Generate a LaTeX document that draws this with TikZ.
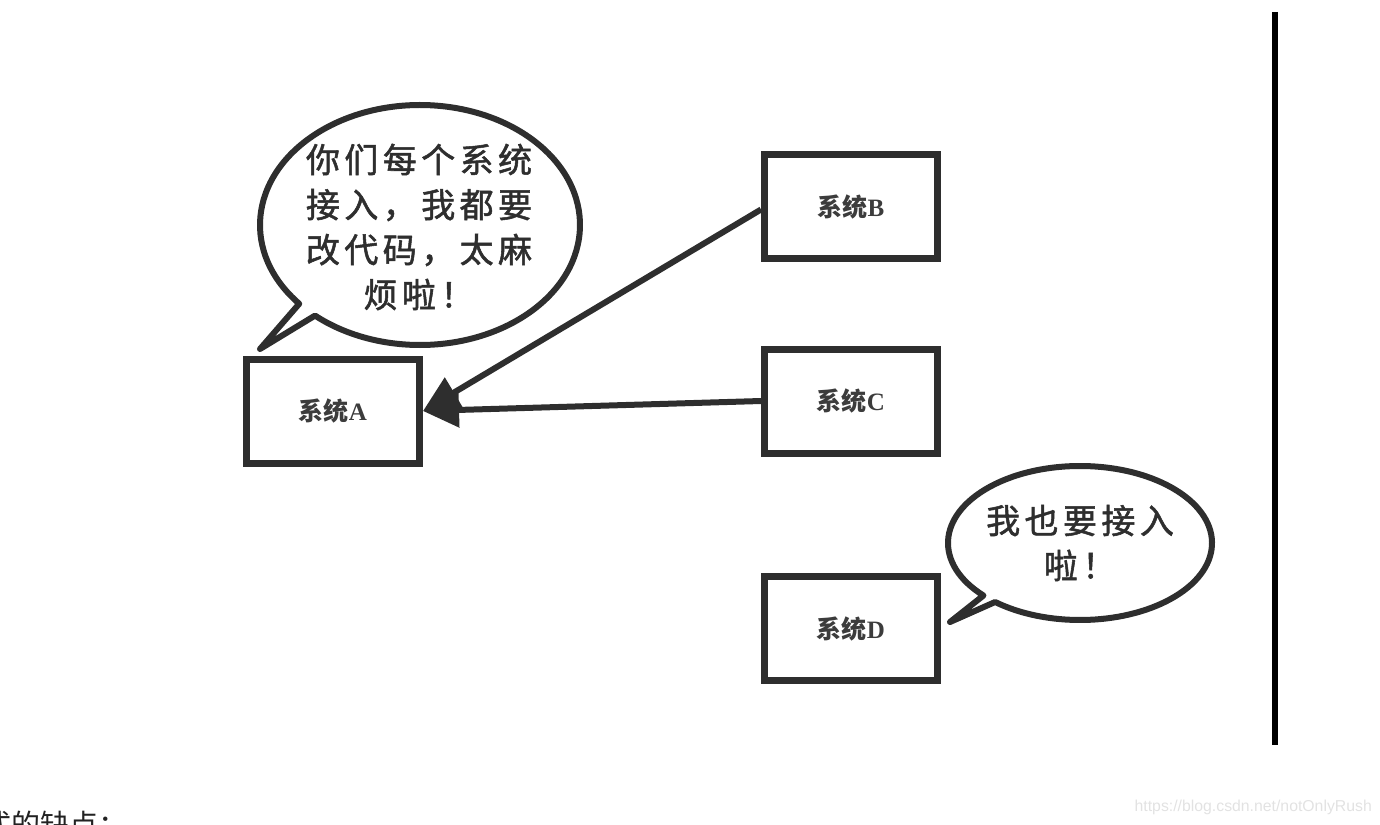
\documentclass[tikz,border=0pt]{standalone}
\usepackage{fontspec}
\setmainfont{Liberation Serif}
\newfontfamily\cjk{Noto Sans CJK SC}
\newfontfamily\cjkspaced[LetterSpace=13,FakeBold=1.5]{Noto Sans CJK SC}
\newfontfamily\wmfont{Liberation Sans}
\usetikzlibrary{arrows.meta,calc}
\definecolor{ink}{HTML}{2E2E2E}
\definecolor{labelgray}{HTML}{3C3C3C}
\definecolor{wmgray}{HTML}{E2E2E2}
\definecolor{captext}{HTML}{222222}
\newcommand\syslabel[1]{{\cjk\bfseries 系统}{\bfseries #1}}
\begin{document}
\begin{tikzpicture}[x=1pt,y=-1pt,
  sysbox/.style={draw=ink, line width=7pt, minimum width=173pt, minimum height=104pt,
    inner sep=0pt, font=\fontsize{25}{25}\selectfont, text=labelgray},
  conn/.style={draw=ink, line width=6pt, -{Triangle[length=36pt,width=34pt]}},
  bubble/.style={draw=ink, line width=6pt, fill=white, line join=round},
  saytext/.style={align=center, text=ink, font=\fontsize{34}{45}\selectfont\cjkspaced, inner sep=0pt}
]
\useasboundingbox (0,0) rectangle (1380,824);
\clip (0,0) rectangle (1380,824);

% boxes
\node[sysbox] (A) at (333,411) {\syslabel{A}};
\node[sysbox] (B) at (851,206.5) {\syslabel{B}};
\node[sysbox] (C) at (851,401) {\syslabel{C}};
\node[sysbox] (D) at (851,628.5) {\syslabel{D}};

% speech bubbles
\draw[bubble] (260,349) -- ($(420,225)+(139:160 and 120)$)
  arc[start angle=139, end angle=491, x radius=160, y radius=120] -- cycle;
\node[saytext] (sayA) at (419,227) {你们每个系统\\接入，我都要\\改代码，太麻\\烦啦！};

\draw[bubble] (950,622) -- ($(1080,543)+(137:132 and 77)$)
  arc[start angle=137, end angle=490, x radius=132, y radius=77] -- cycle;
\node[saytext] (sayD) at (1080,543) {我也要接入\\啦！};

% connectors
\draw[conn] ($(B.west)+(0,3)$) -- (A.east);
\draw[conn] (C.west) -- (A.east);

% vertical rule
\coordinate (vtop) at (1274.7,12);
\coordinate (vbot) at (1274.7,745);
\draw[black, line width=6pt] (vtop) -- (vbot);

% bottom texts
\node[anchor=base west, inner sep=0pt, font=\fontsize{29}{29}\selectfont\cjk, text=captext] (cap) at (-18,835) {式的缺点：};
\node[anchor=base east, inner sep=0pt, font=\fontsize{15.8}{16}\selectfont\wmfont, text=wmgray] (wm) at (1372,811) {https://blog.csdn.net/notOnlyRush};
\end{tikzpicture}
\end{document}
